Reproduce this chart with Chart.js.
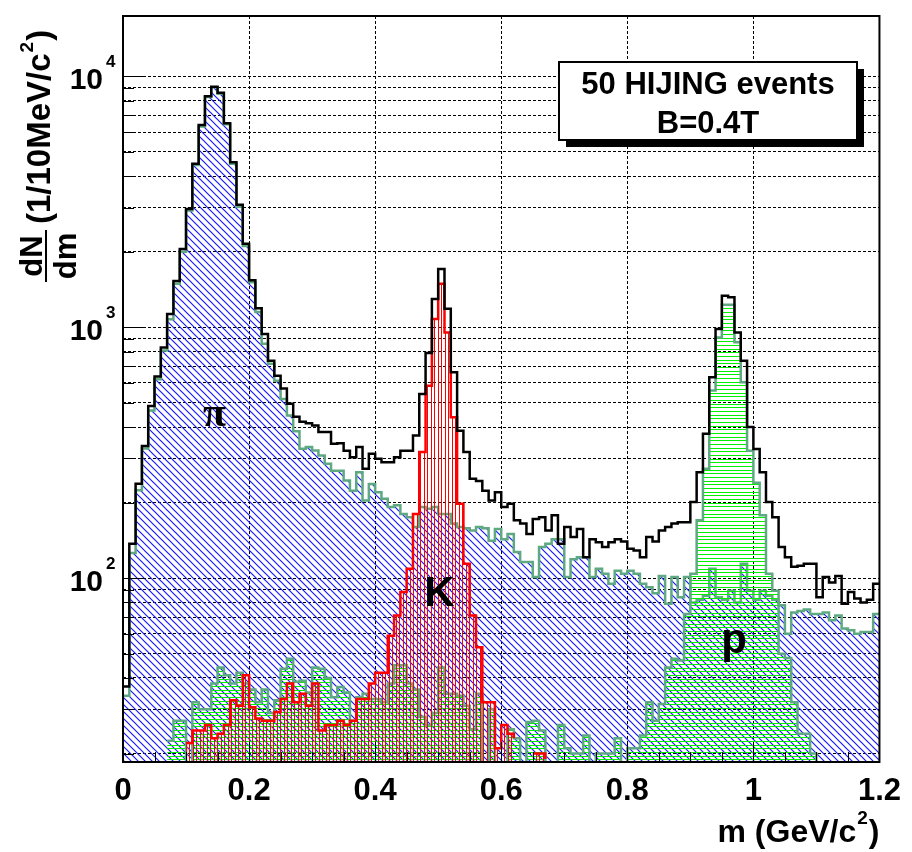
<!DOCTYPE html>
<html>
<head>
<meta charset="utf-8">
<script src="https://cdn.jsdelivr.net/npm/chart.js@4.4.1/dist/chart.umd.min.js"></script>
<style>
  html, body { margin: 0; padding: 0; background: #fff; }
  #wrap { width: 912px; height: 852px; }
</style>
</head>
<body>
<div id="wrap"><canvas id="massChart" width="912" height="852"></canvas></div>
<script>
// 10 MeV bins from 0 to 1.2 GeV/c^2
const binWidth = 0.01;
const binCount = 120;
const massEdges = Array.from({ length: binCount + 1 }, (_, i) => +(i * binWidth).toFixed(2));

// counts per bin
const pionCounts = [
  34, 126, 224, 329, 466, 620, 807, 1075, 1489, 2000,
  2920, 4430, 6310, 8270, 9040, 8530, 6450, 4480, 3020, 2110,
  1510, 1150, 860, 715, 612, 518, 445, 385, 328, 333,
  323, 308, 286, 268, 268, 245, 223, 264, 204, 237,
  220, 207, 192, 195, 180, 175, 160, 192, 189, 192,
  180, 180, 165, 160, 158, 155, 160, 158, 141, 157,
  143, 150, 127, 116, 116, 101, 133, 137, 143, 143,
  101, 119, 121, 121, 101, 109, 104, 95, 107, 104,
  107, 104, 95, 92, 87, 102, 79, 101, 84, 101,
  80, 82, 85, 109, 84, 82, 89, 80, 114, 89,
  82, 89, 85, 82, 78, 60, 73, 74, 75, 72,
  72, 73, 68, 71, 63, 62, 60, 61, 61, 72
];
const kaonCounts = [
  0, 0, 0, 0, 0, 0, 0, 0, 0, 0,
  22, 24.7, 24.7, 26, 23, 24, 26, 32.6, 31, 41,
  30.6, 27.6, 27, 27, 29.3, 33, 38, 32, 34.6, 31,
  38, 24.7, 26, 26, 27, 26, 27, 33, 33, 38,
  42, 42, 59, 71, 88, 109, 180, 318, 585, 1078,
  1490, 953, 438, 198, 114, 71, 53, 32, 32, 21,
  26, 24, 23, 0, 0, 20, 20, 19, 0, 0,
  0, 0, 0, 0, 0, 0, 0, 0, 0, 0,
  0, 0, 0, 0, 0, 0, 0, 0, 0, 0,
  0, 0, 0, 0, 0, 0, 0, 0, 0, 0,
  0, 0, 0, 0, 0, 0, 0, 0, 0, 0,
  0, 0, 0, 0, 0, 0, 0, 0, 0, 0
];
const protonCounts = [
  0, 0, 0, 0, 0, 0, 0, 22.5, 27, 27,
  17, 32, 30, 30, 38, 44, 41, 38, 42, 38,
  36, 32, 36, 29, 32.6, 43.5, 47.7, 38.6, 39, 35,
  44, 43.5, 40, 33.5, 36.8, 35, 27, 33.5, 34.6, 33,
  33, 32, 38, 45, 45, 38, 36, 28, 26, 29,
  44, 34.6, 34.6, 34, 31, 25, 34.6, 18, 30, 18,
  18, 25, 23, 17, 26.7, 27, 24.7, 17, 17, 26,
  21, 20, 20, 23.6, 17, 20, 20, 20, 23, 17,
  21, 21, 23.6, 32, 27, 31.5, 44, 47.7, 47, 72,
  104, 170, 273, 559, 910, 1229, 1229, 872, 603, 322,
  240, 178, 104, 89, 50, 48, 32, 24, 24, 20,
  17, 0, 0, 0, 0, 0, 0, 0, 0, 0
];
const totalCounts = [
  37, 137, 238, 336, 485, 637, 830, 1130, 1530, 2050,
  2960, 4480, 6400, 8330, 9100, 8600, 6500, 4550, 3080, 2150,
  1540, 1190, 940, 735, 640, 570, 495, 440, 420, 414,
  406, 382, 382, 343, 345, 322, 303, 333, 273, 313,
  299, 290, 290, 303, 322, 322, 370, 542, 790, 1295,
  1706, 1185, 662, 387, 318, 249, 244, 223, 204, 220,
  192, 198, 170, 165, 150, 172, 175, 155, 178, 137,
  160, 146, 157, 121, 143, 139, 133, 139, 143, 140,
  131, 129, 121, 146, 140, 155, 160, 165, 167, 167,
  201, 264, 376, 632, 983, 1335, 1317, 953, 736, 400,
  327, 264, 201, 175, 133, 121, 111, 112, 114, 114,
  84, 101, 96, 102, 79, 88, 83, 80, 82, 95
];

const xTickStep = 0.2;
const xMinorStep = 0.05;
const yTickValues = [
  20, 30, 40, 50, 60, 70, 80, 90,
  100, 200, 300, 400, 500, 600, 700, 800, 900,
  1000, 2000, 3000, 4000, 5000, 6000, 7000, 8000, 9000,
  10000
];
const boxLines = ['50 HIJING events', 'B=0.4T'];
const peakLabels = [
  { text: 'π', mass: 0.145, count: 445, font: 'bold 42px "Liberation Serif", serif' },
  { text: 'K', mass: 0.502, count: 86, font: 'bold 42px "Liberation Sans", Arial, sans-serif' },
  { text: 'p', mass: 0.9695, count: 56, font: 'bold 42px "Liberation Sans", Arial, sans-serif' }
];

const SANS = '"Liberation Sans", Arial, sans-serif';
Chart.defaults.font.family = SANS;

function steps(counts) {
  // one point per bin edge, last edge repeats the last bin
  return massEdges.map((m, i) => ({ x: m, y: counts[Math.min(i, counts.length - 1)] }));
}

function hatch(kind, color) {
  const c = document.createElement('canvas');
  const g = c.getContext('2d');
  if (kind === 'diag') {
    const s = 7;
    c.width = s; c.height = s;
    g.strokeStyle = color; g.lineWidth = 1.2;
    g.beginPath();
    g.moveTo(-1, -1); g.lineTo(s + 1, s + 1);
    g.moveTo(-1, s - 1); g.lineTo(1, s + 1);
    g.moveTo(s - 1, -1); g.lineTo(s + 1, 1);
    g.stroke();
  } else if (kind === 'vert') {
    c.width = 7; c.height = 4;
    g.strokeStyle = color; g.lineWidth = 1;
    g.beginPath();
    g.moveTo(0.5, 0); g.lineTo(0.5, 4);
    g.moveTo(4.5, 0); g.lineTo(4.5, 4);
    g.stroke();
  } else {
    c.width = 4; c.height = 11;
    g.strokeStyle = color; g.lineWidth = 1;
    g.beginPath();
    [0.5, 4.5, 8.5].forEach(yy => { g.moveTo(0, yy); g.lineTo(4, yy); });
    g.stroke();
  }
  return g.createPattern(c, 'repeat');
}

const ctx = document.getElementById('massChart').getContext('2d');

const decorations = {
  id: 'decorations',
  afterDatasetsDraw(chart) {
    const { ctx, scales: { x, y } } = chart;
    ctx.save();
    ctx.fillStyle = '#000';
    ctx.textAlign = 'center';
    ctx.textBaseline = 'middle';
    peakLabels.forEach(l => {
      ctx.font = l.font;
      ctx.fillText(l.text, x.getPixelForValue(l.mass), y.getPixelForValue(l.count));
    });
    ctx.restore();
  },
  afterDraw(chart) {
    const { ctx, chartArea: a, scales: { x, y } } = chart;
    ctx.save();
    ctx.strokeStyle = '#000';
    ctx.fillStyle = '#000';

    // tick marks point inwards, like ROOT
    ctx.lineWidth = 1;
    ctx.beginPath();
    y.ticks.forEach(t => {
      const py = Math.round(y.getPixelForValue(t.value)) + 0.5;
      const decade = Number.isInteger(Math.log10(t.value));
      ctx.moveTo(a.left, py);
      ctx.lineTo(a.left + (decade ? 22 : 11), py);
    });
    const nMinor = Math.round((x.max - x.min) / xMinorStep);
    for (let i = 0; i <= nMinor; i++) {
      const m = x.min + i * xMinorStep;
      const px = Math.round(x.getPixelForValue(m)) + 0.5;
      const major = i % Math.round(xTickStep / xMinorStep) === 0;
      ctx.moveTo(px, a.bottom);
      ctx.lineTo(px, a.bottom - (major ? 20 : 10));
    }
    ctx.stroke();

    // frame
    ctx.lineWidth = 2;
    ctx.strokeRect(a.left, a.top, a.right - a.left, a.bottom - a.top);

    // y tick labels 10^n
    ctx.textBaseline = 'alphabetic';
    y.ticks.forEach(t => {
      const e = Math.log10(t.value);
      if (!Number.isInteger(e)) return;
      const py = y.getPixelForValue(t.value);
      ctx.font = 'bold 30px ' + SANS;
      ctx.textAlign = 'right';
      ctx.fillText('10', a.left - 20, py + 13);
      ctx.font = 'bold 17px ' + SANS;
      ctx.textAlign = 'left';
      ctx.fillText(String(e), a.left - 17, py - 9);
    });

    // x title: m (GeV/c^2)
    const big = 'bold 32px ' + SANS, sup = 'bold 19px ' + SANS;
    ctx.font = big;
    const w1 = ctx.measureText('m (GeV/c').width;
    const w3 = ctx.measureText(')').width;
    ctx.font = sup;
    const w2 = ctx.measureText('2').width + 2;
    let tx = a.right - (w1 + w2 + w3);
    const ty = 842;
    ctx.textAlign = 'left';
    ctx.font = big; ctx.fillText('m (GeV/c', tx, ty); tx += w1;
    ctx.font = sup; ctx.fillText('2', tx + 1, ty - 18); tx += w2;
    ctx.font = big; ctx.fillText(')', tx, ty);

    // y title, rotated: dN/dm (1/10MeV/c^2)
    ctx.save();
    ctx.rotate(-Math.PI / 2);
    ctx.textAlign = 'center';
    ctx.font = 'bold 31px ' + SANS;
    ctx.fillText('dN', -256, 42);
    ctx.fillText('dm', -256, 76);
    ctx.lineWidth = 2;
    ctx.beginPath();
    ctx.moveTo(-282, 46); ctx.lineTo(-230, 46);
    ctx.stroke();
    ctx.textAlign = 'left';
    let u = -224;
    ctx.font = 'bold 33px ' + SANS;
    ctx.fillText('(1/10MeV/c', u, 50); u += ctx.measureText('(1/10MeV/c').width;
    ctx.font = 'bold 19px ' + SANS;
    ctx.fillText('2', u + 1, 50 - 17); u += ctx.measureText('2').width + 2;
    ctx.font = 'bold 33px ' + SANS;
    ctx.fillText(')', u, 50);
    ctx.restore();

    // text box with shadow
    const bx = 559, by = 62, bw = 298, bh = 78, sh = 7;
    ctx.fillStyle = '#000';
    ctx.fillRect(bx + sh, by + sh, bw, bh);
    ctx.fillStyle = '#fff';
    ctx.fillRect(bx, by, bw, bh);
    ctx.lineWidth = 2;
    ctx.strokeRect(bx, by, bw, bh);
    ctx.fillStyle = '#000';
    ctx.textAlign = 'center';
    ctx.font = 'bold 31px ' + SANS;
    ctx.fillText(boxLines[0], bx + bw / 2, by + 32);
    ctx.fillText(boxLines[1], bx + bw / 2, by + 71);

    ctx.restore();
  }
};

const teal = '#5fa982';

new Chart(ctx, {
  type: 'line',
  data: {
    datasets: [
      {
        label: 'all',
        data: steps(totalCounts),
        stepped: true,
        borderColor: '#000',
        borderWidth: 2.5,
        fill: false,
        pointRadius: 0,
        order: 1
      },
      {
        label: 'K',
        data: steps(kaonCounts),
        stepped: true,
        borderColor: '#ff0000',
        borderWidth: 2.5,
        backgroundColor: hatch('vert', '#ff0000'),
        fill: 'start',
        pointRadius: 0,
        order: 2
      },
      {
        label: 'p',
        data: steps(protonCounts),
        stepped: true,
        borderColor: teal,
        borderWidth: 2.5,
        backgroundColor: hatch('horiz', '#00f000'),
        fill: 'start',
        pointRadius: 0,
        order: 3
      },
      {
        label: 'pi',
        data: steps(pionCounts),
        stepped: true,
        borderColor: teal,
        borderWidth: 2.5,
        backgroundColor: hatch('diag', '#1a1aff'),
        fill: 'start',
        pointRadius: 0,
        order: 4
      }
    ]
  },
  options: {
    responsive: false,
    animation: false,
    layout: { padding: { left: 0, top: 16, right: 29, bottom: 0 } },
    plugins: {
      legend: { display: false },
      tooltip: { enabled: false }
    },
    scales: {
      x: {
        type: 'linear',
        min: 0,
        max: 1.2,
        afterFit: s => { s.height = 90; },
        ticks: {
          stepSize: xTickStep,
          color: '#000',
          padding: 11,
          font: { size: 31, weight: 'bold' },
          callback: v => String(+v.toFixed(1))
        },
        grid: { color: '#000', lineWidth: 1, drawTicks: false },
        border: { display: false, dash: [3, 2] }
      },
      y: {
        type: 'logarithmic',
        min: 18.5,
        max: 17400,
        afterFit: s => { s.width = 123; },
        afterBuildTicks: s => { s.ticks = yTickValues.map(v => ({ value: v })); },
        ticks: { display: false },
        grid: { color: '#000', lineWidth: 1, drawTicks: false },
        border: { display: false, dash: [3, 2] }
      }
    }
  },
  plugins: [decorations]
});
</script>
</body>
</html>
